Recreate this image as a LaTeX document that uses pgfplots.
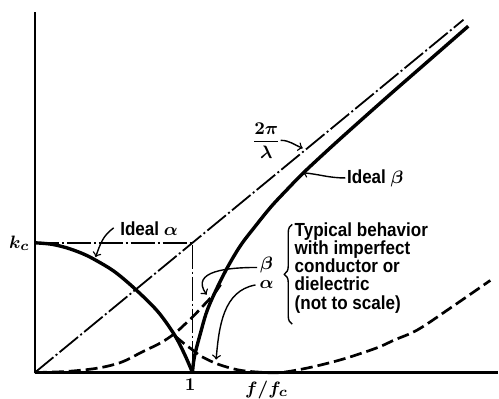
\documentclass[border=0pt]{standalone}
\usepackage{pgfplots}
\pgfplotsset{compat=1.18}
\usepackage{fontspec}
\setmainfont{Liberation Sans}[FakeStretch=0.9]
\usepackage{bm}
\usetikzlibrary{decorations.pathreplacing}

\newcommand\lbl{\fontsize{9.5}{9.15}\selectfont\bfseries\boldmath}

\tikzset{
  dashdot/.style={line width=0.9pt, dash pattern=on 12pt off 1.5pt on 1pt off 1.5pt},
  ideal/.style={line width=1.7pt, smooth, tension=0.55},
  lossy/.style={line width=1.35pt, smooth, tension=0.55, dash pattern=on 6pt off 2.5pt},
  callout/.style={line width=0.7pt, ->},
}

\begin{document}
\begin{tikzpicture}
\begin{axis}[
  width=232pt, height=180.75pt, scale only axis,
  xmin=0, xmax=2.937, ymin=0, ymax=2.78,
  axis x line=bottom, axis y line=left,
  axis line style={-, line width=1.3pt},
  ticks=none, clip=false,
]
% free-space wavenumber 2pi/lambda = k_c f/f_c
\addplot[dashdot] coordinates {(0,0) (2.72,2.72)};
% ideal attenuation (step) drawn as a box
\addplot[dashdot] coordinates {(0,1) (1,1) (1,0)};
% ideal alpha below cutoff
\addplot[ideal] coordinates {
  (0,1) (0.1,0.99) (0.2,0.962) (0.3,0.918) (0.38,0.87) (0.506,0.777)
  (0.643,0.636) (0.78,0.47) (0.886,0.29) (0.95,0.14) (1,0)};
% ideal beta above cutoff
\addplot[ideal] coordinates {
  (1,0) (1.012,0.12) (1.05,0.30) (1.1,0.50) (1.2,0.76) (1.3,0.97)
  (1.4,1.13) (1.5,1.28) (1.6,1.41) (1.7,1.535) (1.85,1.705)
  (2.0,1.87) (2.25,2.14) (2.5,2.405) (2.75,2.67)};
% beta with losses
\addplot[lossy] coordinates {
  (0,0) (0.2,0.008) (0.4,0.034) (0.55,0.08) (0.675,0.155) (0.8,0.23)
  (0.886,0.30) (0.95,0.37) (1.01,0.44) (1.08,0.53) (1.14,0.61) (1.19,0.70)};
% alpha with losses
\addplot[lossy] coordinates {
  (0.89,0.28) (0.95,0.22) (1.0,0.175) (1.055,0.125) (1.16,0.065)
  (1.29,0.02) (1.42,0.003) (1.56,0) (1.75,0.04) (1.96,0.105)
  (2.17,0.19) (2.28,0.25) (2.43,0.33) (2.64,0.5) (2.89,0.71)};

% labels
\node[anchor=east, inner sep=2.5pt, font=\lbl] at (axis cs:0,1) {$k_c$};
\node[anchor=north, inner sep=0pt, font=\lbl] at (axis cs:0.985,-0.05) {$\mathbf{1}$};
\node[anchor=north, inner sep=0pt, font=\lbl] at (axis cs:1.47,-0.06) {$f/f_c$};

\node[font=\lbl] at (axis cs:0.725,1.11) {Ideal $\alpha$};
\draw[callout] (axis cs:0.50,1.115) to[out=215,in=70] (axis cs:0.385,0.89);

\node[font=\lbl] at (axis cs:1.468,1.79) {$\displaystyle\frac{2\pi}{\lambda}$};
\draw[callout] (axis cs:1.56,1.79) to[out=0,in=160] (axis cs:1.70,1.73);

\node[font=\lbl] at (axis cs:2.16,1.50) {Ideal $\beta$};
\draw[callout] (axis cs:1.97,1.50) to[out=180,in=-5] (axis cs:1.70,1.54);

\node[font=\lbl] at (axis cs:1.47,0.83) {$\beta$};
\node[font=\lbl] at (axis cs:1.47,0.68) {$\alpha$};
\draw[callout] (axis cs:1.41,0.81) to[out=180,in=125,looseness=1.3] (axis cs:1.09,0.60);
\draw[callout] (axis cs:1.40,0.675) to[out=190,in=85] (axis cs:1.15,0.10);

\draw[line width=0.7pt, decorate, decoration={brace, amplitude=4pt}]
  (axis cs:1.633,0.373) -- (axis cs:1.633,1.142);
\node[anchor=north west, align=left, inner sep=0pt, font=\lbl]
  at (axis cs:1.646,1.16)
  {Typical behavior\\with imperfect\\conductor or\\dielectric\\(not to scale)};

% page extent
\path (axis cs:-0.2215,-0.173) rectangle (axis cs:2.937,2.872);
\end{axis}
\end{tikzpicture}
\end{document}
